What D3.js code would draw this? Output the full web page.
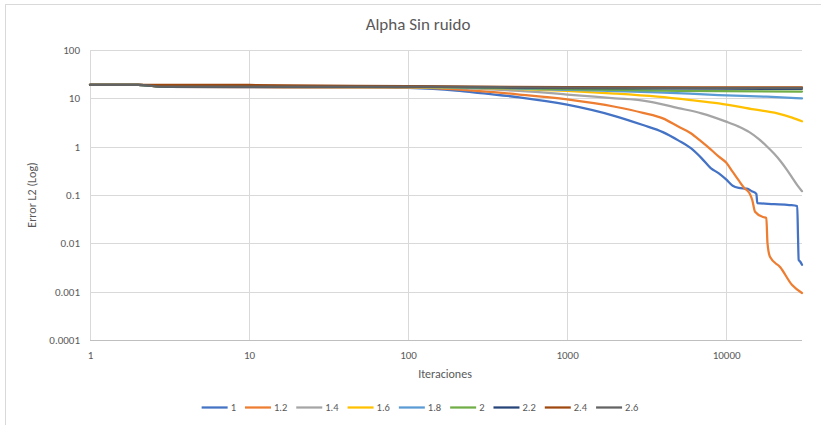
<!DOCTYPE html>
<html>
<head>
<meta charset="utf-8">
<script src="https://cdn.jsdelivr.net/npm/d3@7"></script>
<style>
  html, body { margin: 0; padding: 0; background: #fff; }
  svg { display: block; font-family: Calibri, Carlito, Lato, "Open Sans", sans-serif; }
</style>
</head>
<body>
<svg id="chart" width="821" height="425"></svg>
<script>
// Error L2 per iteration for each alpha value: [iteration, error]
const alpha_1 = [[1,19],[2,19],[3,17.3],[10,17],[50,16.9],[100,16.4],[200,14.5],[300,12.6],[500,10.5],[1000,7.4],[2000,4.3],[3000,2.8],[4000,2.0],[5000,1.35],[6000,0.93],[7000,0.58],[8000,0.36],[9000,0.28],[10000,0.21],[11000,0.155],[12000,0.14],[13500,0.135],[14500,0.12],[15500,0.105],[15700,0.068],[20000,0.065],[25000,0.062],[28000,0.059],[28300,0.015],[28600,0.0045],[29200,0.0042],[30000,0.0036]];
const alpha_1_2 = [[1,19],[2,19],[3,17.3],[10,17],[100,16.8],[200,15.3],[500,12],[1000,9.5],[2000,6.7],[3000,5.0],[4000,3.85],[5000,2.6],[6000,1.9],[7000,1.27],[8000,0.88],[9000,0.62],[10000,0.47],[11000,0.3],[12000,0.2],[13000,0.14],[14000,0.11],[14600,0.079],[15200,0.045],[17100,0.035],[17900,0.0336],[18200,0.0101],[18900,0.0052],[21900,0.0032],[26000,0.00137],[30000,0.00094]];
const alpha_1_4 = [[1,19],[2,19],[3,17.3],[10,17.1],[100,17],[200,16.4],[500,14.2],[1000,12],[2000,10],[3000,9],[5000,6.3],[7000,4.9],[10000,3.3],[12000,2.6],[14000,2.0],[16000,1.45],[18000,1.02],[20000,0.72],[22000,0.5],[24000,0.34],[26000,0.23],[28000,0.16],[30000,0.12]];
const alpha_1_6 = [[1,19],[2,19],[3,17.3],[10,17.2],[100,17.1],[500,15.5],[1000,14.2],[2000,12.5],[3700,10.8],[6000,9.2],[9000,7.9],[15000,5.9],[21000,4.9],[26000,4.0],[30000,3.35]];
const alpha_1_8 = [[1,19],[2,19],[3,17.4],[100,17.2],[1000,15],[3700,13.3],[9000,11.7],[18000,10.8],[30000,10]];
const alpha_2 = [[1,19],[2,19],[3,17.5],[100,17.3],[1000,15.5],[5000,14.3],[30000,13.8]];
const alpha_2_2 = [[1,19],[2,19],[3,17.5],[100,17.4],[1000,16.3],[30000,15.7]];
const alpha_2_4 = [[1,19],[10,18.9],[100,17.8],[1000,17.1],[30000,16.8]];
const alpha_2_6 = [[1,19],[2,19],[3,17.4],[100,17.4],[1000,16.6],[30000,16.2]];

const seriesNames = ["1", "1.2", "1.4", "1.6", "1.8", "2", "2.2", "2.4", "2.6"];
const seriesValues = [alpha_1, alpha_1_2, alpha_1_4, alpha_1_6, alpha_1_8, alpha_2, alpha_2_2, alpha_2_4, alpha_2_6];

const xTicks = [1, 10, 100, 1000, 10000];
const xTickLabels = ["1", "10", "100", "1000", "10000"];
const yTicks = [0.0001, 0.001, 0.01, 0.1, 1, 10, 100];
const yTickLabels = ["0.0001", "0.001", "0.01", "0.1", "1", "10", "100"];

const titleText = "Alpha Sin ruido";
const xTitle = "Iteraciones";
const yTitle = "Error L2 (Log)";

// Office palette
const colors = ["#4472C4", "#ED7D31", "#A5A5A5", "#FFC000", "#5B9BD5", "#70AD47", "#264478", "#9E480E", "#636363"];

const svg = d3.select("#chart");
const plot = { left: 90, right: 802, top: 50, bottom: 340 };

// chart frame
svg.append("rect")
  .attr("x", 5.5).attr("y", 4.5).attr("width", 830).attr("height", 440)
  .attr("fill", "#fff").attr("stroke", "#d9d9d9").attr("stroke-width", 1);

const x = d3.scaleLog().domain([1, 30000]).range([plot.left, plot.right]);
const y = d3.scaleLog().domain([0.0001, 100]).range([plot.bottom, plot.top]);

// gridlines
const grid = svg.append("g").attr("stroke", "#d9d9d9").attr("stroke-width", 1);
grid.selectAll("line.h").data(yTicks.slice(1)).join("line")
  .attr("x1", plot.left).attr("x2", plot.right)
  .attr("y1", d => Math.round(y(d)) + 0.5).attr("y2", d => Math.round(y(d)) + 0.5);
grid.selectAll("line.v").data(xTicks).join("line")
  .attr("y1", plot.top).attr("y2", plot.bottom)
  .attr("x1", d => Math.round(x(d)) + 0.5).attr("x2", d => Math.round(x(d)) + 0.5);

// axes
const xAxis = svg.append("g")
  .attr("transform", `translate(0,${plot.bottom + 0.5})`)
  .call(d3.axisBottom(x).tickValues(xTicks).tickSize(0).tickPadding(11)
    .tickFormat((d, i) => xTickLabels[i]));
xAxis.select(".domain").attr("stroke", "#bfbfbf").attr("d", `M${plot.left},0H${plot.right}`);
xAxis.selectAll("text").attr("fill", "#595959").attr("font-size", 11)
  .attr("font-family", "Calibri, Carlito, Lato, sans-serif");

const yAxis = svg.append("g")
  .attr("transform", `translate(${plot.left},0)`)
  .call(d3.axisLeft(y).tickValues(yTicks).tickSize(0).tickPadding(10)
    .tickFormat((d, i) => yTickLabels[i]));
yAxis.select(".domain").remove();
yAxis.selectAll("text").attr("fill", "#595959").attr("font-size", 11)
  .attr("font-family", "Calibri, Carlito, Lato, sans-serif");

// series lines (last series painted on top)
const line = d3.line().x(d => x(d[0])).y(d => y(d[1])).curve(d3.curveMonotoneX);
svg.append("g").selectAll("path").data(seriesValues).join("path")
  .attr("d", line)
  .attr("fill", "none")
  .attr("stroke", (d, i) => colors[i])
  .attr("stroke-width", 2.25)
  .attr("stroke-linejoin", "round")
  .attr("stroke-linecap", "round");

// titles
svg.append("text").attr("x", 418).attr("y", 30).attr("text-anchor", "middle")
  .attr("font-size", 17).attr("fill", "#595959").text(titleText);
svg.append("text").attr("x", 445).attr("y", 378).attr("text-anchor", "middle")
  .attr("font-size", 12).attr("fill", "#595959").text(xTitle);
svg.append("text").attr("transform", "translate(36,195) rotate(-90)").attr("text-anchor", "middle")
  .attr("font-size", 12).attr("fill", "#595959").text(yTitle);

// legend
const legend = svg.append("g");
let cursor = 0;
seriesNames.forEach((name, i) => {
  const g = legend.append("g").attr("transform", `translate(${cursor},0)`);
  g.append("line").attr("x1", 0).attr("x2", 26).attr("y1", 0).attr("y2", 0)
    .attr("stroke", colors[i]).attr("stroke-width", 2.25);
  const t = g.append("text").attr("x", 29).attr("y", 3.5).attr("font-size", 10.5)
    .attr("fill", "#595959").text(name);
  cursor += 29 + t.node().getComputedTextLength() + 9;
});
const legendWidth = cursor - 9;
legend.attr("transform", `translate(${420 - legendWidth / 2},407.5)`);
</script>
</body>
</html>
